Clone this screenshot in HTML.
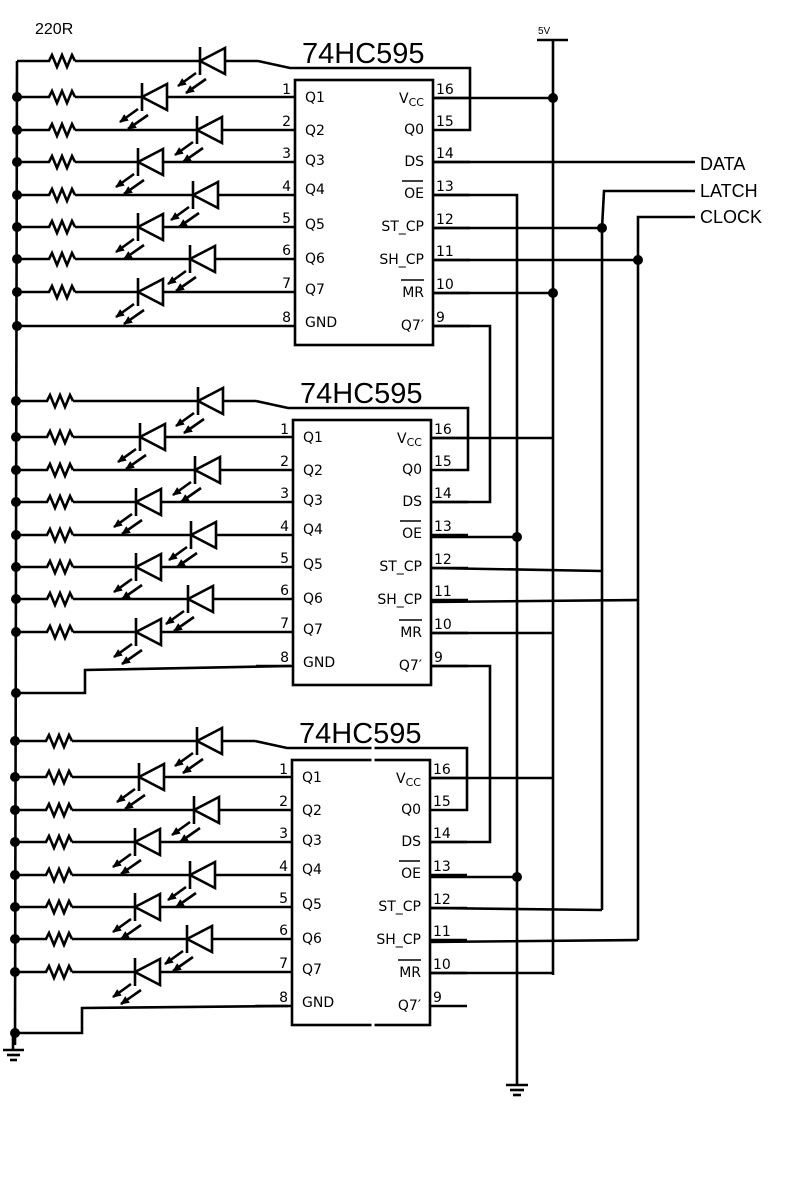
<!DOCTYPE html>
<html><head><meta charset="utf-8"><style>
html,body{margin:0;padding:0;background:#fff;}
svg{display:block;}
text{font-family:"DejaVu Sans","Liberation Sans",sans-serif;fill:#000;}
</style></head><body>
<svg width="790" height="1200" viewBox="0 0 790 1200" xmlns="http://www.w3.org/2000/svg">
<defs>
<marker id="ah" markerWidth="9" markerHeight="8" refX="8" refY="4" orient="auto" markerUnits="userSpaceOnUse"><path d="M0,0 L9,4 L0,8 z" fill="#000"/></marker>
<polyline id="res" points="0,0 4,0 7,-6 12,6 17,-6 22,6 27,-6 30,0" fill="none" stroke="#000" stroke-width="2.6"/>
<g id="led" stroke="#000" stroke-width="2.6">
<polygon points="0,0 25,-13 25,13" fill="#fff"/>
<line x1="0" y1="-14" x2="0" y2="14"/>
<line x1="-4" y1="12" x2="-22" y2="25" marker-end="url(#ah)"/>
<line x1="6" y1="18" x2="-14" y2="32" marker-end="url(#ah)"/>
</g>
<g id="chip">
<g stroke="#000" stroke-width="2.6" fill="none">
<rect x="295" y="80" width="138" height="265" fill="#fff"/>
<line x1="17" y1="61" x2="45" y2="61"/><line x1="75" y1="61" x2="258" y2="61"/>
<polyline points="258,61 290,68 470,68 470,130 433,130"/>
<line x1="17" y1="97" x2="45" y2="97"/><line x1="75" y1="97" x2="295" y2="97"/>
<line x1="17" y1="130" x2="45" y2="130"/><line x1="75" y1="130" x2="295" y2="130"/>
<line x1="17" y1="162" x2="45" y2="162"/><line x1="75" y1="162" x2="295" y2="162"/>
<line x1="17" y1="195" x2="45" y2="195"/><line x1="75" y1="195" x2="295" y2="195"/>
<line x1="17" y1="227" x2="45" y2="227"/><line x1="75" y1="227" x2="295" y2="227"/>
<line x1="17" y1="259" x2="45" y2="259"/><line x1="75" y1="259" x2="295" y2="259"/>
<line x1="17" y1="292" x2="45" y2="292"/><line x1="75" y1="292" x2="295" y2="292"/>
<line x1="258" y1="326" x2="295" y2="326"/>
<line x1="433" y1="98" x2="470" y2="98"/>
<line x1="433" y1="162" x2="470" y2="162"/>
<line x1="433" y1="195" x2="470" y2="195"/>
<line x1="433" y1="228" x2="470" y2="228"/>
<line x1="433" y1="260" x2="470" y2="260"/>
<line x1="433" y1="293" x2="470" y2="293"/>
<line x1="433" y1="326" x2="470" y2="326"/>
<line x1="402" y1="181" x2="423" y2="181" stroke-width="1.4"/>
<line x1="401" y1="280" x2="424" y2="280" stroke-width="1.4"/>
</g>
<use href="#res" x="45" y="61"/><use href="#res" x="45" y="97"/><use href="#res" x="45" y="130"/><use href="#res" x="45" y="162"/>
<use href="#res" x="45" y="195"/><use href="#res" x="45" y="227"/><use href="#res" x="45" y="259"/><use href="#res" x="45" y="292"/>
<use href="#led" x="200" y="61"/><use href="#led" x="142" y="97"/><use href="#led" x="197" y="130"/><use href="#led" x="138" y="162"/>
<use href="#led" x="193" y="195"/><use href="#led" x="138" y="227"/><use href="#led" x="190" y="259"/><use href="#led" x="138" y="292"/>
</g>
</defs>

<text x="35" y="34" font-size="16" style="font-family:'Liberation Sans',sans-serif">220R</text>
<text x="538" y="34" font-size="10" style="font-family:'Liberation Sans',sans-serif">5V</text>
<text x="700" y="170" font-size="18" style="font-family:'Liberation Sans',sans-serif">DATA</text>
<text x="700" y="197" font-size="18" style="font-family:'Liberation Sans',sans-serif">LATCH</text>
<text x="700" y="223" font-size="18" style="font-family:'Liberation Sans',sans-serif">CLOCK</text>

<g>
<use href="#chip"/>
<text x="302" y="63" font-size="29" style="font-family:'Liberation Sans',sans-serif">74HC595</text>
<g font-size="14">
<text x="291" y="94" text-anchor="end">1</text><text x="291" y="126" text-anchor="end">2</text><text x="291" y="158" text-anchor="end">3</text><text x="291" y="191" text-anchor="end">4</text>
<text x="291" y="223" text-anchor="end">5</text><text x="291" y="255" text-anchor="end">6</text><text x="291" y="288" text-anchor="end">7</text><text x="291" y="322" text-anchor="end">8</text>
<text x="436" y="94">16</text><text x="436" y="126">15</text><text x="436" y="158">14</text><text x="436" y="191">13</text>
<text x="436" y="224">12</text><text x="436" y="256">11</text><text x="436" y="289">10</text><text x="436" y="322">9</text>
<text x="305" y="102">Q1</text><text x="305" y="135">Q2</text><text x="305" y="165">Q3</text><text x="305" y="194">Q4</text>
<text x="305" y="229">Q5</text><text x="305" y="263">Q6</text><text x="305" y="294">Q7</text><text x="305" y="327">GND</text>
<text x="424" y="103" text-anchor="end">V<tspan font-size="11" dy="3">CC</tspan></text>
<text x="424" y="134" text-anchor="end">Q0</text><text x="424" y="166" text-anchor="end">DS</text><text x="424" y="198" text-anchor="end">OE</text>
<text x="424" y="231" text-anchor="end">ST_CP</text><text x="424" y="264" text-anchor="end">SH_CP</text><text x="424" y="297" text-anchor="end">MR</text><text x="424" y="330" text-anchor="end">Q7′</text>
</g>
</g>

<g transform="translate(-2,340)">
<use href="#chip"/>
<text x="302" y="63" font-size="29" style="font-family:'Liberation Sans',sans-serif">74HC595</text>
<g font-size="14">
<text x="291" y="94" text-anchor="end">1</text><text x="291" y="126" text-anchor="end">2</text><text x="291" y="158" text-anchor="end">3</text><text x="291" y="191" text-anchor="end">4</text>
<text x="291" y="223" text-anchor="end">5</text><text x="291" y="255" text-anchor="end">6</text><text x="291" y="288" text-anchor="end">7</text><text x="291" y="322" text-anchor="end">8</text>
<text x="436" y="94">16</text><text x="436" y="126">15</text><text x="436" y="158">14</text><text x="436" y="191">13</text>
<text x="436" y="224">12</text><text x="436" y="256">11</text><text x="436" y="289">10</text><text x="436" y="322">9</text>
<text x="305" y="102">Q1</text><text x="305" y="135">Q2</text><text x="305" y="165">Q3</text><text x="305" y="194">Q4</text>
<text x="305" y="229">Q5</text><text x="305" y="263">Q6</text><text x="305" y="294">Q7</text><text x="305" y="327">GND</text>
<text x="424" y="103" text-anchor="end">V<tspan font-size="11" dy="3">CC</tspan></text>
<text x="424" y="134" text-anchor="end">Q0</text><text x="424" y="166" text-anchor="end">DS</text><text x="424" y="198" text-anchor="end">OE</text>
<text x="424" y="231" text-anchor="end">ST_CP</text><text x="424" y="264" text-anchor="end">SH_CP</text><text x="424" y="297" text-anchor="end">MR</text><text x="424" y="330" text-anchor="end">Q7′</text>
</g>
</g>

<g transform="translate(-3,680)">
<use href="#chip"/>
<text x="302" y="63" font-size="29" style="font-family:'Liberation Sans',sans-serif">74HC595</text>
<g font-size="14">
<text x="291" y="94" text-anchor="end">1</text><text x="291" y="126" text-anchor="end">2</text><text x="291" y="158" text-anchor="end">3</text><text x="291" y="191" text-anchor="end">4</text>
<text x="291" y="223" text-anchor="end">5</text><text x="291" y="255" text-anchor="end">6</text><text x="291" y="288" text-anchor="end">7</text><text x="291" y="322" text-anchor="end">8</text>
<text x="436" y="94">16</text><text x="436" y="126">15</text><text x="436" y="158">14</text><text x="436" y="191">13</text>
<text x="436" y="224">12</text><text x="436" y="256">11</text><text x="436" y="289">10</text><text x="436" y="322">9</text>
<text x="305" y="102">Q1</text><text x="305" y="135">Q2</text><text x="305" y="165">Q3</text><text x="305" y="194">Q4</text>
<text x="305" y="229">Q5</text><text x="305" y="263">Q6</text><text x="305" y="294">Q7</text><text x="305" y="327">GND</text>
<text x="424" y="103" text-anchor="end">V<tspan font-size="11" dy="3">CC</tspan></text>
<text x="424" y="134" text-anchor="end">Q0</text><text x="424" y="166" text-anchor="end">DS</text><text x="424" y="198" text-anchor="end">OE</text>
<text x="424" y="231" text-anchor="end">ST_CP</text><text x="424" y="264" text-anchor="end">SH_CP</text><text x="424" y="297" text-anchor="end">MR</text><text x="424" y="330" text-anchor="end">Q7′</text>
</g>
<line x1="376" y1="66" x2="376" y2="82" stroke="#fff" stroke-width="3"/>
<line x1="376" y1="343" x2="376" y2="347" stroke="#fff" stroke-width="3"/>
</g>

<g stroke="#000" stroke-width="2.6" fill="none">
<line x1="17" y1="61" x2="15" y2="1045"/>
<line x1="17" y1="326" x2="258" y2="326"/>
<polyline points="291,666 85,670 85,693 17,693"/>
<polyline points="288,1006 82,1008 82,1033 15,1033"/>
<line x1="13" y1="1033" x2="13" y2="1050"/>
<line x1="3" y1="1050" x2="24" y2="1050"/><line x1="7" y1="1055" x2="20" y2="1055"/><line x1="10" y1="1060" x2="17" y2="1060"/>
<line x1="537" y1="40" x2="568" y2="40"/>
<line x1="553" y1="40" x2="553" y2="975"/>
<line x1="433" y1="98" x2="553" y2="98"/>
<line x1="431" y1="438" x2="553" y2="438"/>
<line x1="430" y1="778" x2="553" y2="778"/>
<line x1="433" y1="293" x2="553" y2="293"/>
<line x1="431" y1="633" x2="553" y2="633"/>
<line x1="430" y1="973" x2="553" y2="973"/>
<polyline points="433,195 517,195 517,1085"/>
<line x1="431" y1="537" x2="517" y2="537"/>
<line x1="430" y1="877" x2="517" y2="877"/>
<line x1="506" y1="1085" x2="528" y2="1085"/><line x1="510" y1="1090" x2="524" y2="1090"/><line x1="513" y1="1095" x2="521" y2="1095"/>
<line x1="433" y1="162" x2="695" y2="162"/>
<polyline points="695,191 604,191 602,228 602,910"/>
<line x1="433" y1="228" x2="602" y2="228"/>
<line x1="431" y1="568" x2="602" y2="571"/>
<line x1="430" y1="908" x2="602" y2="910"/>
<polyline points="695,217 638,217 638,940"/>
<line x1="433" y1="260" x2="638" y2="260"/>
<line x1="431" y1="602" x2="638" y2="600"/>
<line x1="430" y1="942" x2="638" y2="940"/>
<polyline points="433,326 490,326 490,502 431,502"/>
<polyline points="431,666 490,666 490,842 430,842"/>
</g>
<g fill="#000">
<circle cx="17" cy="97" r="5"/><circle cx="17" cy="130" r="5"/><circle cx="17" cy="162" r="5"/><circle cx="17" cy="195" r="5"/>
<circle cx="17" cy="227" r="5"/><circle cx="17" cy="259" r="5"/><circle cx="17" cy="292" r="5"/><circle cx="17" cy="326" r="5"/>
<circle cx="16" cy="401" r="5"/><circle cx="16" cy="437" r="5"/><circle cx="16" cy="470" r="5"/><circle cx="16" cy="502" r="5"/>
<circle cx="16" cy="535" r="5"/><circle cx="16" cy="567" r="5"/><circle cx="16" cy="599" r="5"/><circle cx="16" cy="632" r="5"/><circle cx="16" cy="693" r="5"/>
<circle cx="15" cy="741" r="5"/><circle cx="15" cy="777" r="5"/><circle cx="15" cy="810" r="5"/><circle cx="15" cy="842" r="5"/>
<circle cx="15" cy="875" r="5"/><circle cx="15" cy="907" r="5"/><circle cx="15" cy="939" r="5"/><circle cx="15" cy="972" r="5"/><circle cx="15" cy="1033" r="5"/>
<circle cx="553" cy="98" r="5"/><circle cx="553" cy="293" r="5"/>
<circle cx="602" cy="228" r="5"/><circle cx="638" cy="260" r="5"/>
<circle cx="517" cy="537" r="5"/><circle cx="517" cy="877" r="5"/>
</g>
</svg>
</body></html>
